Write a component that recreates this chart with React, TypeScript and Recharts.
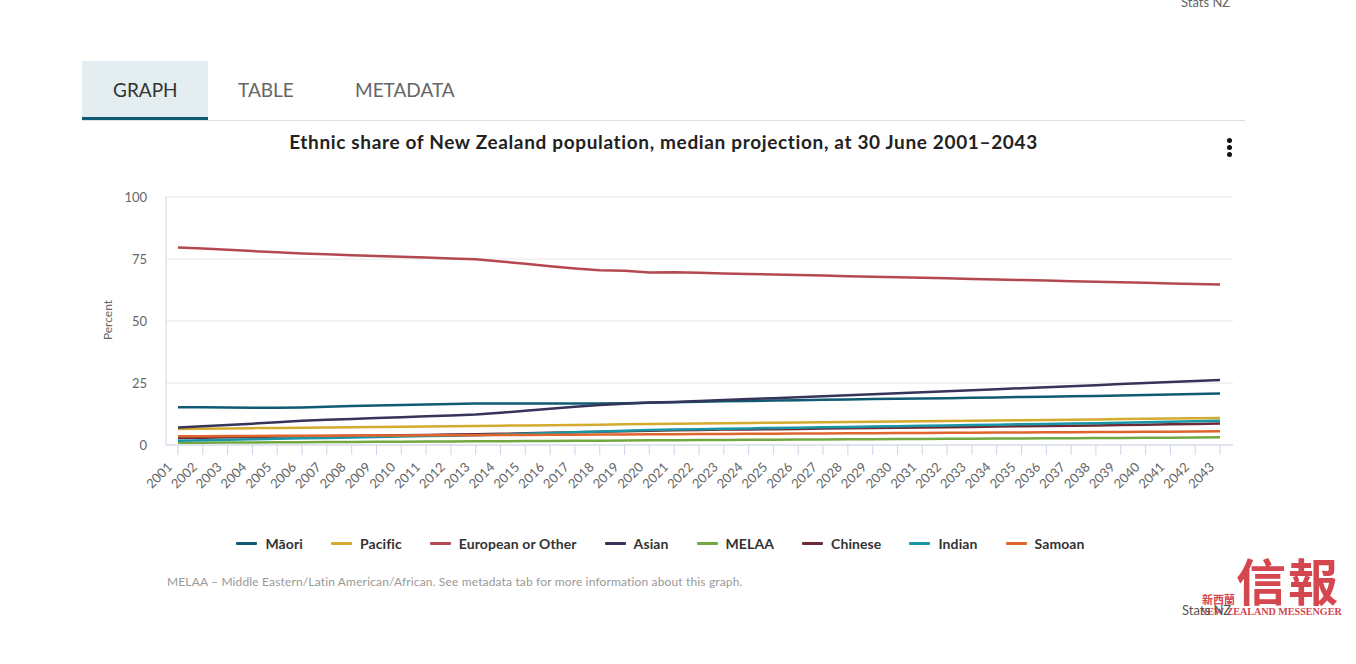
import React from 'react';
import { LineChart, Line, XAxis, YAxis, CartesianGrid } from 'recharts';

const years = [
  '2001', '2002', '2003', '2004', '2005', '2006', '2007', '2008', '2009', '2010', '2011',
  '2012', '2013', '2014', '2015', '2016', '2017', '2018', '2019', '2020', '2021', '2022',
  '2023', '2024', '2025', '2026', '2027', '2028', '2029', '2030', '2031', '2032', '2033',
  '2034', '2035', '2036', '2037', '2038', '2039', '2040', '2041', '2042', '2043',
];

const maori = [15.2, 15.2, 15.1, 15.0, 15.0, 15.1, 15.4, 15.7, 15.9, 16.1, 16.3, 16.5, 16.7, 16.7, 16.7, 16.7, 16.7, 16.7, 16.8, 17.0, 17.2, 17.4, 17.6, 17.7, 17.9, 18.0, 18.2, 18.3, 18.5, 18.6, 18.8, 18.9, 19.1, 19.2, 19.4, 19.5, 19.7, 19.8, 20.0, 20.2, 20.4, 20.6, 20.8];
const pacific = [6.5, 6.6, 6.7, 6.8, 6.9, 7.0, 7.1, 7.2, 7.3, 7.4, 7.5, 7.6, 7.7, 7.8, 7.9, 8.0, 8.1, 8.2, 8.4, 8.5, 8.6, 8.7, 8.8, 8.9, 9.0, 9.1, 9.2, 9.3, 9.4, 9.5, 9.6, 9.7, 9.8, 9.9, 10.0, 10.1, 10.2, 10.3, 10.5, 10.6, 10.7, 10.8, 10.9];
const european = [79.6, 79.2, 78.7, 78.2, 77.7, 77.2, 76.9, 76.5, 76.2, 75.9, 75.6, 75.2, 74.9, 74.0, 73.1, 72.1, 71.2, 70.5, 70.3, 69.6, 69.7, 69.5, 69.2, 69.0, 68.7, 68.5, 68.3, 68.0, 67.8, 67.6, 67.4, 67.2, 66.9, 66.7, 66.5, 66.3, 66.0, 65.8, 65.6, 65.4, 65.1, 64.9, 64.7];
const asian = [7.1, 7.6, 8.1, 8.6, 9.2, 9.8, 10.2, 10.5, 10.9, 11.2, 11.6, 11.9, 12.3, 13.0, 13.8, 14.6, 15.4, 16.1, 16.6, 17.1, 17.3, 17.7, 18.1, 18.5, 18.9, 19.3, 19.7, 20.1, 20.5, 20.9, 21.3, 21.7, 22.1, 22.5, 22.9, 23.3, 23.7, 24.1, 24.6, 25.0, 25.4, 25.8, 26.2];
const melaa = [0.9, 0.9, 1.0, 1.0, 1.1, 1.1, 1.2, 1.2, 1.3, 1.3, 1.4, 1.4, 1.5, 1.5, 1.6, 1.6, 1.7, 1.7, 1.8, 1.9, 1.9, 2.0, 2.0, 2.1, 2.1, 2.2, 2.2, 2.3, 2.3, 2.4, 2.4, 2.5, 2.5, 2.6, 2.6, 2.7, 2.7, 2.8, 2.8, 2.9, 2.9, 3.0, 3.1];
const chinese = [2.8, 2.9, 3.1, 3.2, 3.4, 3.5, 3.6, 3.7, 3.8, 3.9, 4.0, 4.2, 4.3, 4.5, 4.7, 4.9, 5.1, 5.3, 5.5, 5.7, 5.9, 6.0, 6.2, 6.3, 6.4, 6.5, 6.7, 6.8, 6.9, 7.0, 7.1, 7.2, 7.3, 7.5, 7.6, 7.7, 7.8, 7.9, 8.1, 8.2, 8.4, 8.5, 8.7];
const indian = [1.7, 1.9, 2.1, 2.3, 2.5, 2.7, 2.8, 3.0, 3.2, 3.4, 3.6, 3.7, 3.9, 4.2, 4.5, 4.8, 5.1, 5.4, 5.7, 6.0, 6.2, 6.4, 6.6, 6.7, 6.9, 7.0, 7.2, 7.3, 7.5, 7.6, 7.8, 7.9, 8.1, 8.2, 8.4, 8.5, 8.7, 8.8, 9.0, 9.2, 9.4, 9.6, 9.8];
const samoan = [3.5, 3.5, 3.6, 3.6, 3.7, 3.7, 3.7, 3.8, 3.8, 3.8, 3.9, 3.9, 3.9, 4.0, 4.0, 4.1, 4.1, 4.2, 4.2, 4.3, 4.3, 4.4, 4.4, 4.5, 4.5, 4.6, 4.6, 4.7, 4.7, 4.8, 4.8, 4.9, 4.9, 5.0, 5.0, 5.1, 5.1, 5.2, 5.2, 5.3, 5.3, 5.4, 5.5];

const yTicks = [0, 25, 50, 75, 100];

const series = [
  { key: 'maori', name: 'Māori', color: '#0e5b73' },
  { key: 'pacific', name: 'Pacific', color: '#d3ab2f' },
  { key: 'european', name: 'European or Other', color: '#b5484e' },
  { key: 'asian', name: 'Asian', color: '#35345a' },
  { key: 'melaa', name: 'MELAA', color: '#72a840' },
  { key: 'chinese', name: 'Chinese', color: '#6d2a36' },
  { key: 'indian', name: 'Indian', color: '#1996a6' },
  { key: 'samoan', name: 'Samoan', color: '#e0652d' },
];

const YearTick = (props: any) => {
  const { x, y, payload } = props;
  const ax = x - 5;
  const ay = y + 11;
  return (
    <text x={ax} y={ay} textAnchor="end" fill="#666" fontSize={13} transform={`rotate(-45 ${ax} ${ay})`}>
      {payload.value}
    </text>
  );
};

const LegendBox = () => (
  <div style={{ display: 'flex', justifyContent: 'center', alignItems: 'center', gap: 28, fontSize: 14, fontWeight: 700, color: '#333', letterSpacing: 0.1 }}>
    {series.map((s) => (
      <div key={s.key} style={{ display: 'flex', alignItems: 'center' }}>
        <span style={{ display: 'inline-block', width: 21, height: 3, background: s.color, borderRadius: 1, marginRight: 8 }} />
        <span>{s.name}</span>
      </div>
    ))}
  </div>
);

const App = () => {
  const data = years.map((year, i) => ({
    year,
    maori: maori[i],
    pacific: pacific[i],
    european: european[i],
    asian: asian[i],
    melaa: melaa[i],
    chinese: chinese[i],
    indian: indian[i],
    samoan: samoan[i],
  }));

  return (
    <div style={{ position: 'absolute', left: 0, top: 0, width: 1356, height: 664, background: '#fff', fontFamily: 'Lato, "Open Sans", sans-serif', overflow: 'hidden' }}>
      <div style={{ position: 'absolute', left: 1181, top: -6, fontSize: 13, color: '#666' }}>Stats NZ</div>

      {/* tabs */}
      <div style={{ position: 'absolute', left: 82, top: 61, width: 126, height: 56, background: '#e4eef1', borderBottom: '3px solid #0e5b73' }} />
      <div style={{ position: 'absolute', left: 82, top: 120, width: 1163, height: 1, background: '#dedede' }} />
      <div style={{ position: 'absolute', left: 113, top: 78, fontSize: 19, color: '#333' }}>GRAPH</div>
      <div style={{ position: 'absolute', left: 238, top: 78, fontSize: 19, color: '#666' }}>TABLE</div>
      <div style={{ position: 'absolute', left: 355, top: 78, fontSize: 19, color: '#666' }}>METADATA</div>

      <div style={{ position: 'absolute', left: 82, top: 130, width: 1163, textAlign: 'center', fontSize: 19, fontWeight: 700, color: '#222', letterSpacing: 0.65 }}>
        Ethnic share of New Zealand population, median projection, at 30 June 2001–2043
      </div>
      <div style={{ position: 'absolute', left: 1227, top: 138 }}>
        {[0, 1, 2].map((d) => (
          <div key={d} style={{ width: 5, height: 5, borderRadius: 3, background: '#111', marginBottom: 2 }} />
        ))}
      </div>

      <div style={{ position: 'absolute', left: 0, top: 0 }}>
        <LineChart width={1356} height={520} data={data} margin={{ top: 197, right: 123, bottom: 15, left: 106 }}>
          <CartesianGrid horizontal vertical={false} stroke="#e6e6e6" />
          <XAxis
            dataKey="year"
            interval={0}
            height={60}
            padding={{ left: 12, right: 13 }}
            axisLine={{ stroke: '#ccd6eb' }}
            tickLine={{ stroke: '#ccd6eb' }}
            tickSize={10}
            tick={<YearTick />}
          />
          <YAxis
            width={60}
            domain={[0, 100]}
            ticks={yTicks}
            tickSize={0}
            tickMargin={19}
            axisLine={{ stroke: '#ccd6eb' }}
            tick={{ fill: '#666', fontSize: 13 }}
          />
          {series.map((s) => (
            <Line
              key={s.key}
              type="linear"
              dataKey={s.key}
              name={s.name}
              stroke={s.color}
              strokeWidth={2.5}
              dot={false}
              isAnimationActive={false}
            />
          ))}
        </LineChart>
      </div>

      <div style={{ position: 'absolute', left: 79, top: 535, width: 1163 }}>
        <LegendBox />
      </div>

      <div style={{ position: 'absolute', left: 107, top: 320, transform: 'translate(-50%, -50%) rotate(-90deg)', fontSize: 12, color: '#666', whiteSpace: 'nowrap' }}>
        Percent
      </div>

      <div style={{ position: 'absolute', left: 167, top: 574, fontSize: 12, color: '#999', letterSpacing: 0.15 }}>
        MELAA – Middle Eastern/Latin American/African. See metadata tab for more information about this graph.
      </div>

      {/* watermark */}
      <div style={{ position: 'absolute', left: 1236, top: 551, fontSize: 50, lineHeight: '56px', color: '#d4474f', fontFamily: '"Noto Sans CJK TC", sans-serif', fontWeight: 700, letterSpacing: 2 }}>信報</div>
      <div style={{ position: 'absolute', left: 1202, top: 592, fontSize: 11, lineHeight: '14px', color: '#d4474f', fontFamily: '"Noto Sans CJK TC", sans-serif', fontWeight: 700 }}>新西蘭</div>
      <div style={{ position: 'absolute', left: 1200, top: 606, fontSize: 10.1, lineHeight: '12px', color: '#d4474f', fontFamily: '"Liberation Serif", serif', fontWeight: 700, whiteSpace: 'nowrap' }}>NEW ZEALAND MESSENGER</div>
      <div style={{ position: 'absolute', left: 1182, top: 602, fontSize: 13, color: '#555' }}>Stats NZ</div>
    </div>
  );
};

export default App;
